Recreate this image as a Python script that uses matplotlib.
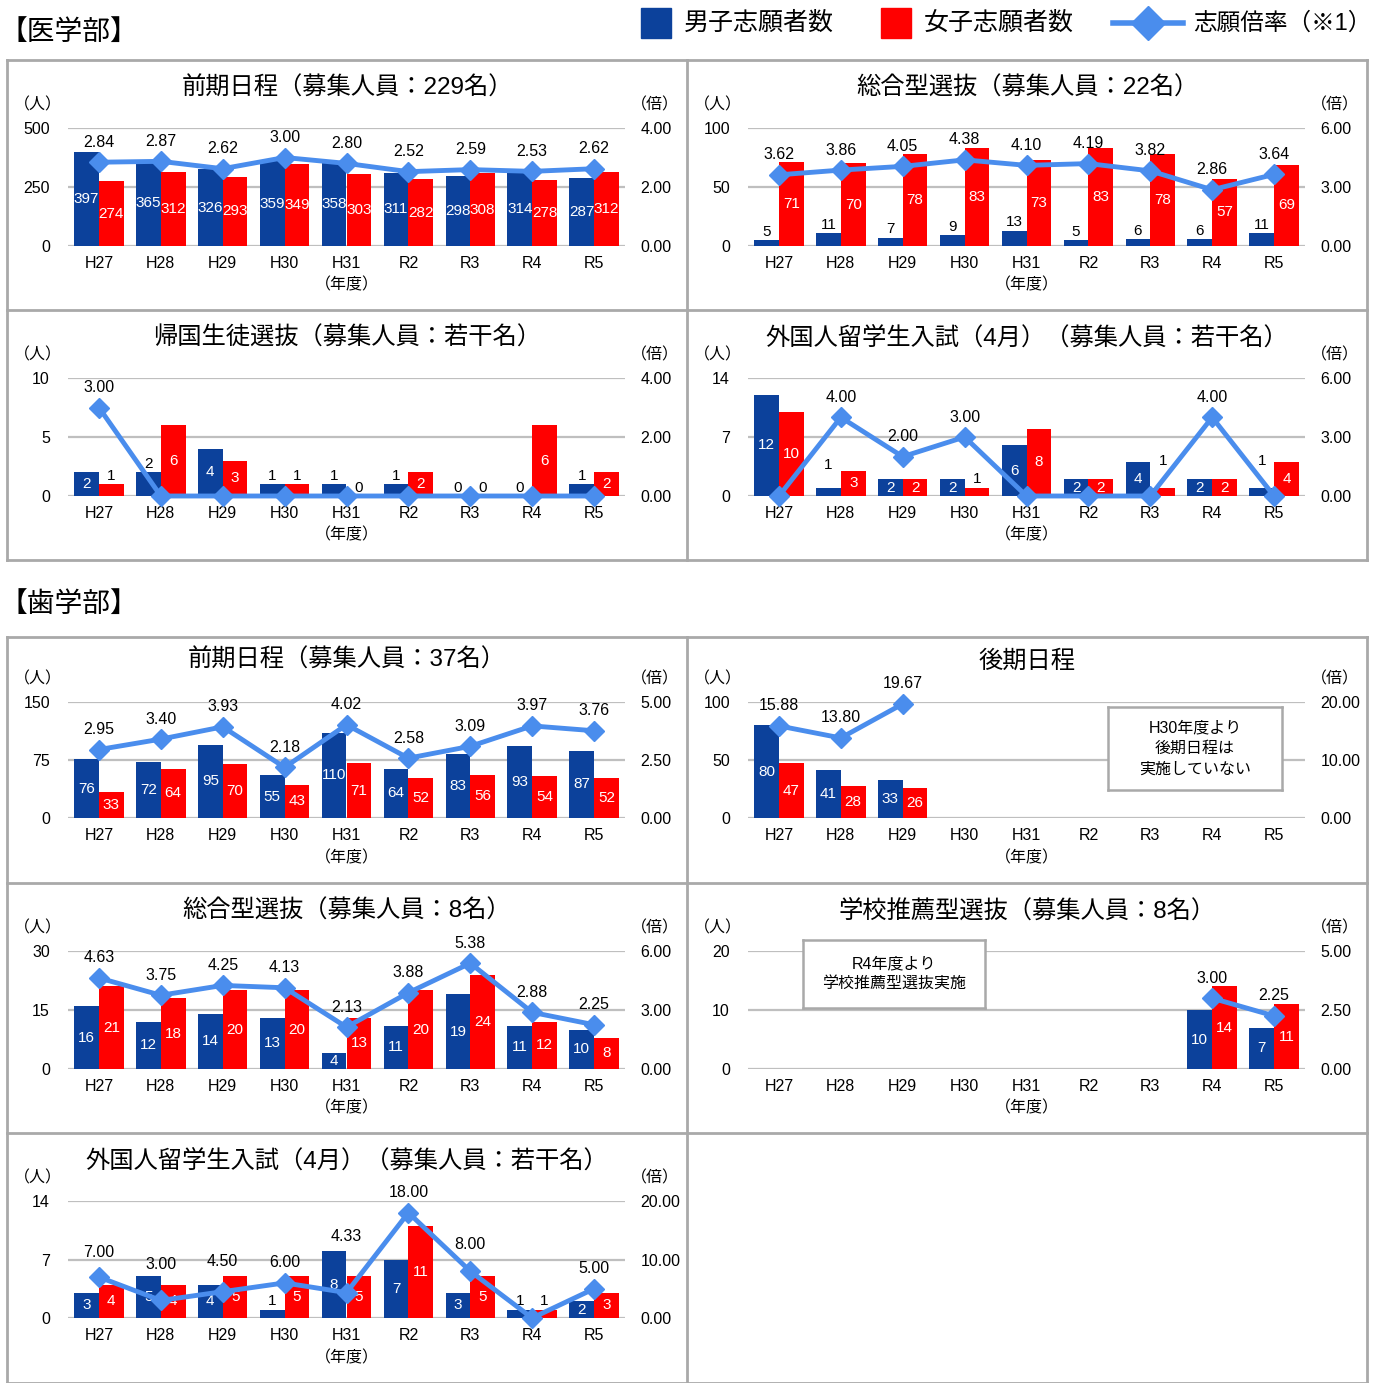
import numpy as np
import matplotlib
matplotlib.use('Agg')
import matplotlib.pyplot as plt
from matplotlib.patches import Rectangle

plt.rcParams['font.family'] = ['Liberation Sans', 'Noto Sans CJK JP']

years = ['H27', 'H28', 'H29', 'H30', 'H31', 'R2', 'R3', 'R4', 'R5']
nan = np.nan

# 医学部
med_front_m = [397, 365, 326, 359, 358, 311, 298, 314, 287]
med_front_f = [274, 312, 293, 349, 303, 282, 308, 278, 312]
med_front_r = [2.84, 2.87, 2.62, 3.00, 2.80, 2.52, 2.59, 2.53, 2.62]

med_sogo_m = [5, 11, 7, 9, 13, 5, 6, 6, 11]
med_sogo_f = [71, 70, 78, 83, 73, 83, 78, 57, 69]
med_sogo_r = [3.62, 3.86, 4.05, 4.38, 4.10, 4.19, 3.82, 2.86, 3.64]

med_kikoku_m = [2, 2, 4, 1, 1, 1, 0, 0, 1]
med_kikoku_f = [1, 6, 3, 1, 0, 2, 0, 6, 2]
med_kikoku_r = [3.00, 0, 0, 0, 0, 0, 0, 0, 0]

med_intl_m = [12, 1, 2, 2, 6, 2, 4, 2, 1]
med_intl_f = [10, 3, 2, 1, 8, 2, 1, 2, 4]
med_intl_r = [0, 4.00, 2.00, 3.00, 0, 0, 0, 4.00, 0]

# 歯学部
den_front_m = [76, 72, 95, 55, 110, 64, 83, 93, 87]
den_front_f = [33, 64, 70, 43, 71, 52, 56, 54, 52]
den_front_r = [2.95, 3.40, 3.93, 2.18, 4.02, 2.58, 3.09, 3.97, 3.76]

den_late_m = [80, 41, 33, nan, nan, nan, nan, nan, nan]
den_late_f = [47, 28, 26, nan, nan, nan, nan, nan, nan]
den_late_r = [15.88, 13.80, 19.67, nan, nan, nan, nan, nan, nan]

den_sogo_m = [16, 12, 14, 13, 4, 11, 19, 11, 10]
den_sogo_f = [21, 18, 20, 20, 13, 20, 24, 12, 8]
den_sogo_r = [4.63, 3.75, 4.25, 4.13, 2.13, 3.88, 5.38, 2.88, 2.25]

den_suisen_m = [nan, nan, nan, nan, nan, nan, nan, 10, 7]
den_suisen_f = [nan, nan, nan, nan, nan, nan, nan, 14, 11]
den_suisen_r = [nan, nan, nan, nan, nan, nan, nan, 3.00, 2.25]

den_intl_m = [3, 5, 4, 1, 8, 7, 3, 1, 2]
den_intl_f = [4, 4, 5, 5, 5, 11, 5, 1, 3]
den_intl_r = [7.00, 3.00, 4.50, 6.00, 4.33, 18.00, 8.00, 0, 5.00]

BLUE = '#0c419b'
RED = '#ff0000'
LINE = '#4a8ded'
GRID = '#bfbfbf'
FRAME = '#a9a9a9'

W, H = 1381, 1383
fig = plt.figure(figsize=(W / 100, H / 100), dpi=100)
bg = fig.add_axes([0, 0, 1, 1])
bg.set_xlim(0, W)
bg.set_ylim(H, 0)
bg.axis('off')


def px_axes(x0, y0, x1, y1):
    return fig.add_axes([x0 / W, 1 - y1 / H, (x1 - x0) / W, (y1 - y0) / H])


def draw_panel(box, title, male, female, rate, ymax, rmax,
               top_pad=68, bot_pad=64, title_dy=28, keep_above=(),
               label_lift=None, rate_lift=None, note=None):
    label_lift = label_lift or {}
    rate_lift = rate_lift or {}
    x0, y0, x1, y1 = box
    left, right = x0 + 61, x1 - 62
    top, bottom = y0 + top_pad, y1 - bot_pad
    ax = px_axes(left, top, right, bottom)
    ax.patch.set_visible(False)
    x = np.arange(len(years))
    ax.bar(x - 0.2, male, 0.4, color=BLUE, zorder=2)
    ax.bar(x + 0.2, female, 0.4, color=RED, zorder=2)
    ax.set_xlim(-0.5, len(years) - 0.5)
    ax.set_ylim(0, ymax)
    ax.set_yticks([0, ymax / 2, ymax])
    ax.set_yticklabels([f'{v:g}' for v in [0, ymax / 2, ymax]])
    ax.set_xticks(x)
    ax.set_xticklabels(years)
    ax.tick_params(length=0, labelsize=11.5)
    ax.tick_params(axis='x', pad=7)
    ax.tick_params(axis='y', pad=13)
    ax.yaxis.grid(True, color=GRID, lw=1.6)
    ax.set_axisbelow(True)
    for s in ax.spines.values():
        s.set_visible(False)

    for series, off, key in [(male, -0.2, 'm'), (female, 0.2, 'f')]:
        for i, v in enumerate(series):
            if np.isnan(v):
                continue
            if v / ymax < 0.132 or (i, key) in keep_above:
                lift = label_lift.get((i, key), 0) * 0.72
                ax.annotate(f'{v:g}', (i + off, v), xytext=(0, 1 + lift), textcoords='offset points',
                            ha='center', va='bottom', fontsize=11, color='black', zorder=3)
            else:
                ax.text(i + off, v / 2, f'{v:g}', ha='center', va='center',
                        fontsize=11, color='white', zorder=3)

    ax2 = ax.twinx()
    ax2.plot(x, rate, color=LINE, lw=3.5, marker='D', markersize=10, clip_on=False, zorder=4)
    ax2.set_ylim(0, rmax)
    ax2.set_yticks([0, rmax / 2, rmax])
    ax2.set_yticklabels([f'{v:.2f}' for v in [0, rmax / 2, rmax]])
    ax2.tick_params(length=0, labelsize=11.5, pad=11)
    for s in ax2.spines.values():
        s.set_visible(False)
    for i, r in enumerate(rate):
        if np.isnan(r) or r == 0:
            continue
        lift = rate_lift.get(i, 0) * 0.72
        ax2.annotate(f'{r:.2f}', (i, r), xytext=(0, 9 + lift), textcoords='offset points',
                     ha='center', va='bottom', fontsize=11.5, zorder=5)

    cx = (x0 + x1) / 2
    bg.text(cx, y0 + title_dy, title, ha='center', va='center', fontsize=17.5)
    bg.text(x0 + 31, top - 23, '（人）', ha='center', va='center', fontsize=11.5)
    bg.text(x1 - 32, top - 23, '（倍）', ha='center', va='center', fontsize=11.5)
    bg.text((left + right) / 2, y1 - 25, '（年度）', ha='center', va='center', fontsize=11.5)

    if note is not None:
        (nx0, ny0, nx1, ny1), lines = note
        nax = px_axes(nx0, ny0, nx1, ny1)
        nax.set_xticks([])
        nax.set_yticks([])
        nax.set_facecolor('white')
        for s in nax.spines.values():
            s.set_color(FRAME)
            s.set_linewidth(1.8)
        nax.text(0.5, 0.5, lines, transform=nax.transAxes, ha='center', va='center',
                 fontsize=11.5, linespacing=1.45)


def draw_grid(xs, ys):
    for xv in xs:
        bg.plot([xv, xv], [ys[0], ys[-1]], color=FRAME, lw=2)
    for yv in ys:
        bg.plot([xs[0], xs[-1]], [yv, yv], color=FRAME, lw=2)


cols = [7, 687, 1367]
med_rows = [60, 310, 560]
den_rows = [637, 883, 1133, 1383]
draw_grid(cols, med_rows)
draw_grid(cols, den_rows)

# headers
bg.text(0, 33, '【医学部】', ha='left', va='center', fontsize=20)
bg.text(0, 605, '【歯学部】', ha='left', va='center', fontsize=20)

# legend
bg.add_patch(Rectangle((641, 8), 30, 30, color=BLUE))
bg.text(684, 23, '男子志願者数', ha='left', va='center', fontsize=18)
bg.add_patch(Rectangle((881, 8), 30, 30, color=RED))
bg.text(924, 23, '女子志願者数', ha='left', va='center', fontsize=18)
bg.plot([1113, 1183], [23, 23], color=LINE, lw=4)
bg.plot([1148], [23], marker='D', markersize=17, color=LINE)
bg.text(1193, 23, '志願倍率（※1）', ha='left', va='center', fontsize=17)

# 医学部
draw_panel((7, 60, 687, 310), '前期日程（募集人員：229名）',
           med_front_m, med_front_f, med_front_r, 500, 4)
draw_panel((687, 60, 1367, 310), '総合型選抜（募集人員：22名）',
           med_sogo_m, med_sogo_f, med_sogo_r, 100, 6)
draw_panel((7, 310, 687, 560), '帰国生徒選抜（募集人員：若干名）',
           med_kikoku_m, med_kikoku_f, med_kikoku_r, 10, 4, keep_above={(1, 'm')})
draw_panel((687, 310, 1367, 560), '外国人留学生入試（4月）（募集人員：若干名）',
           med_intl_m, med_intl_f, med_intl_r, 14, 6,
           label_lift={(1, 'm'): 14, (6, 'f'): 18, (8, 'm'): 18})

# 歯学部
draw_panel((7, 637, 687, 883), '前期日程（募集人員：37名）',
           den_front_m, den_front_f, den_front_r, 150, 5, top_pad=65, bot_pad=65, title_dy=23)
draw_panel((687, 637, 1367, 883), '後期日程',
           den_late_m, den_late_f, den_late_r, 100, 20, top_pad=65, bot_pad=65, title_dy=25,
           note=((1108, 707, 1282, 790), 'H30年度より\n後期日程は\n実施していない'))
draw_panel((7, 883, 687, 1133), '総合型選抜（募集人員：8名）',
           den_sogo_m, den_sogo_f, den_sogo_r, 30, 6)
draw_panel((687, 883, 1367, 1133), '学校推薦型選抜（募集人員：8名）',
           den_suisen_m, den_suisen_f, den_suisen_r, 20, 5,
           note=((803, 940, 985, 1008), 'R4年度より\n学校推薦型選抜実施'))
draw_panel((7, 1133, 687, 1383), '外国人留学生入試（4月）（募集人員：若干名）',
           den_intl_m, den_intl_f, den_intl_r, 14, 20, bot_pad=65,
           rate_lift={0: 5, 1: 16, 2: 10, 4: 36, 6: 7})

fig.savefig('out.png', dpi=100)
